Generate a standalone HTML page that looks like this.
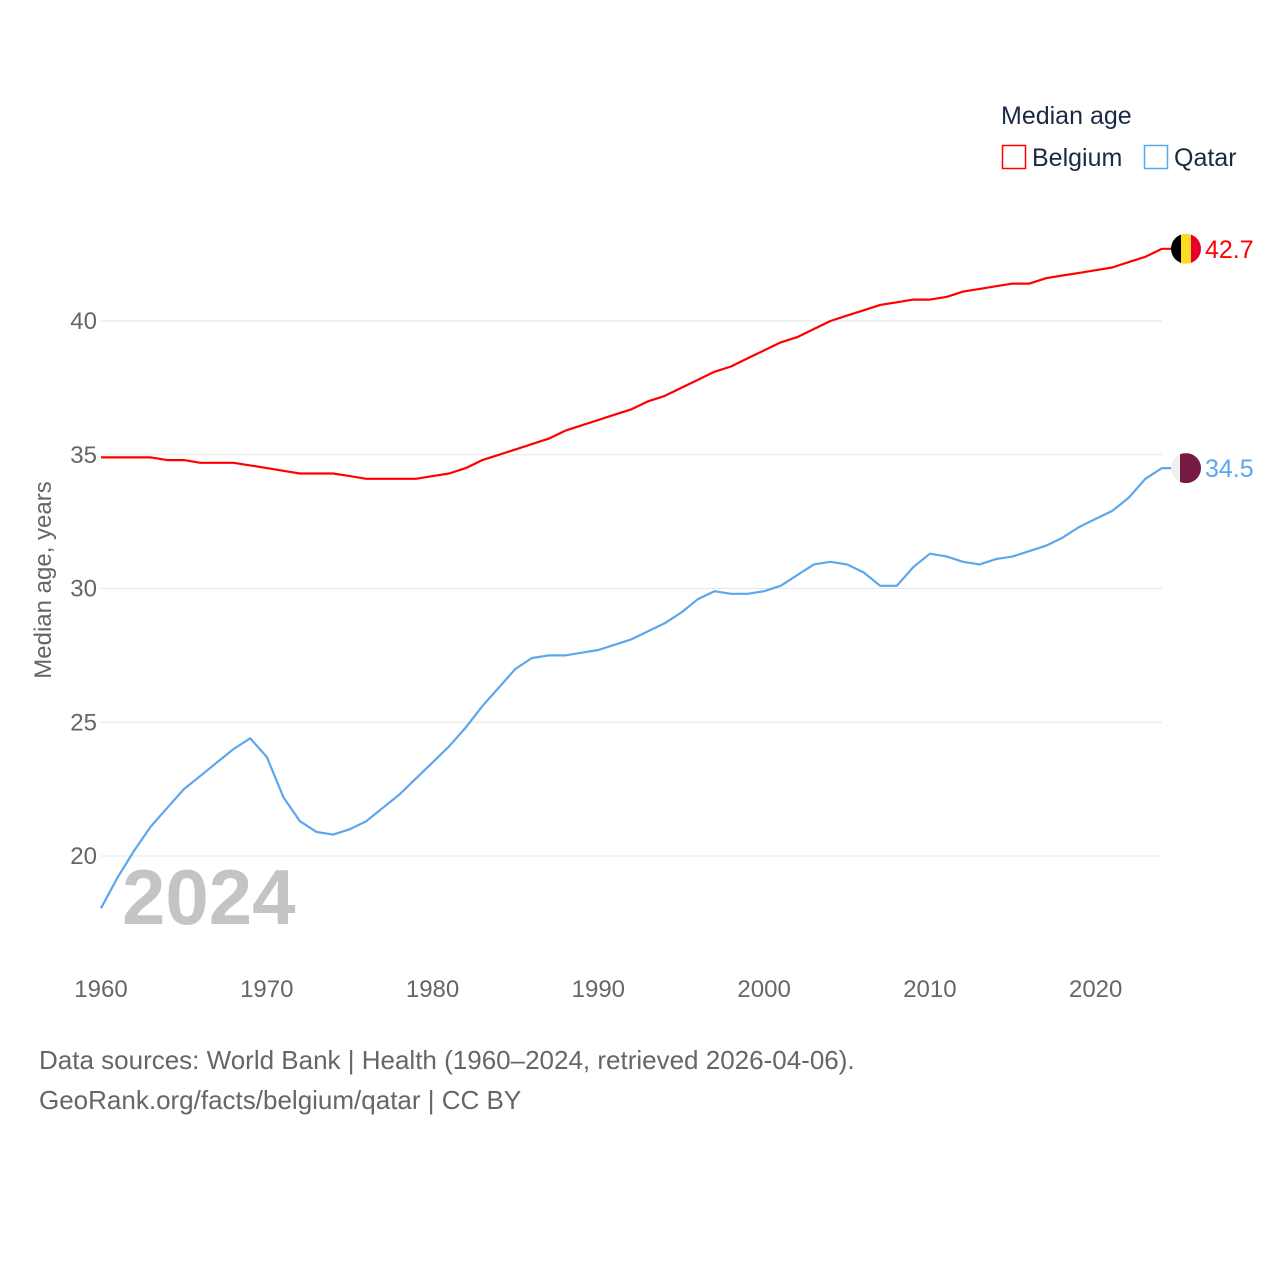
<!DOCTYPE html>
<html><head><meta charset="utf-8"><style>
body{margin:0;background:#fff;}
svg text{font-family:"Liberation Sans",sans-serif;}
</style></head><body>
<svg id="chart" width="1280" height="1280" xmlns="http://www.w3.org/2000/svg">
<g id="grid"></g><g id="ticks"></g>
<text x="122" y="924" font-size="78" font-weight="bold" fill="#c4c4c4">2024</text>
<g id="lines"></g>
<text transform="translate(51,580) rotate(-90)" text-anchor="middle" font-size="24" fill="#666">Median age, years</text>
<text x="1001" y="124" font-size="25" fill="#1a2a44">Median age</text>
<g><rect x="1002.5" y="145.5" width="23" height="23" fill="none" stroke="#ff0000" stroke-width="1.5"/><text x="1032" y="166" font-size="25" fill="#1a2a44">Belgium</text></g>
<g><rect x="1144.5" y="145.5" width="23" height="23" fill="none" stroke="#5ba7ee" stroke-width="1.5"/><text x="1174" y="166" font-size="25" fill="#1a2a44">Qatar</text></g>
<text x="39" y="1069" font-size="26" fill="#666">Data sources: World Bank | Health (1960–2024, retrieved 2026-04-06).</text>
<text x="39" y="1109" font-size="26" fill="#666">GeoRank.org/facts/belgium/qatar | CC BY</text>
</svg>
<script>
const years=[];for(let y=1960;y<=2024;y++)years.push(y);
const belgium=[34.9,34.9,34.9,34.9,34.8,34.8,34.7,34.7,34.7,34.6,34.5,34.4,34.3,34.3,34.3,34.2,34.1,34.1,34.1,34.1,34.2,34.3,34.5,34.8,35.0,35.2,35.4,35.6,35.9,36.1,36.3,36.5,36.7,37.0,37.2,37.5,37.8,38.1,38.3,38.6,38.9,39.2,39.4,39.7,40.0,40.2,40.4,40.6,40.7,40.8,40.8,40.9,41.1,41.2,41.3,41.4,41.4,41.6,41.7,41.8,41.9,42.0,42.2,42.4,42.7];
const qatar=[18.05,19.2,20.2,21.1,21.8,22.5,23.0,23.5,24.0,24.4,23.7,22.2,21.3,20.9,20.8,21.0,21.3,21.8,22.3,22.9,23.5,24.1,24.8,25.6,26.3,27.0,27.4,27.5,27.5,27.6,27.7,27.9,28.1,28.4,28.7,29.1,29.6,29.9,29.8,29.8,29.9,30.1,30.5,30.9,31.0,30.9,30.6,30.1,30.1,30.8,31.3,31.2,31.0,30.9,31.1,31.2,31.4,31.6,31.9,32.3,32.6,32.9,33.4,34.1,34.5];
const yTicks=[20,25,30,35,40];
const xTicks=[1960,1970,1980,1990,2000,2010,2020];
const X=v=>101+(v-1960)*(1162-101)/64;
const Y=v=>321+(40-v)*26.75;
const NS="http://www.w3.org/2000/svg";
function mk(t,a,p){const e=document.createElementNS(NS,t);for(const k in a)e.setAttribute(k,a[k]);p.appendChild(e);return e;}
const grid=document.getElementById('grid'),ticks=document.getElementById('ticks'),lines=document.getElementById('lines');
yTicks.forEach(v=>{
 const l=mk('line',{x1:101,x2:1162,y1:Y(v),y2:Y(v),stroke:'#e6e6e6','stroke-width':1},grid);
 
 
 const t=mk('text',{x:97,y:Y(v)+8,'text-anchor':'end','font-size':24,fill:'#666'},ticks);t.textContent=v;
 
 
});
xTicks.forEach(v=>{
 const t=mk('text',{x:X(v),y:997,'text-anchor':'middle','font-size':24,fill:'#666'},ticks);t.textContent=v;
 
 
});
function series(vals,color,name){
 const d=vals.map((v,i)=>(i?'L':'M')+X(years[i]).toFixed(1)+','+Y(v).toFixed(1)).join('')+'H1175';
 const p=mk('path',{d:d,fill:'none',stroke:color,'stroke-width':2.2,'stroke-linejoin':'round'},lines);
 
 
 const lv=vals[vals.length-1],cy=Y(lv);
 const g=mk('g',{},lines);
 
 
 const cp=mk('clipPath',{id:'c'+name},g);mk('circle',{cx:1186,cy:cy,r:15},cp);
 const gg=mk('g',{'clip-path':'url(#c'+name+')'},g);
 if(name==='belgium'){
  mk('rect',{x:1171,y:cy-15,width:10,height:30,fill:'#000'},gg);
  mk('rect',{x:1181,y:cy-15,width:10,height:30,fill:'#fdda24'},gg);
  mk('rect',{x:1191,y:cy-15,width:10,height:30,fill:'#e4002b'},gg);
 }else{
  mk('rect',{x:1171,y:cy-15,width:30,height:30,fill:'#f0f0f0'},gg);
  mk('rect',{x:1180,y:cy-15,width:21,height:30,fill:'#761a42'},gg);
 }
 const t=mk('text',{x:1205,y:cy+9,'font-size':25,fill:color},lines);t.textContent=lv.toFixed(1);
 
 
}
series(belgium,'#ff0000','belgium');
series(qatar,'#5ba7ee','qatar');
</script>
</body></html>
